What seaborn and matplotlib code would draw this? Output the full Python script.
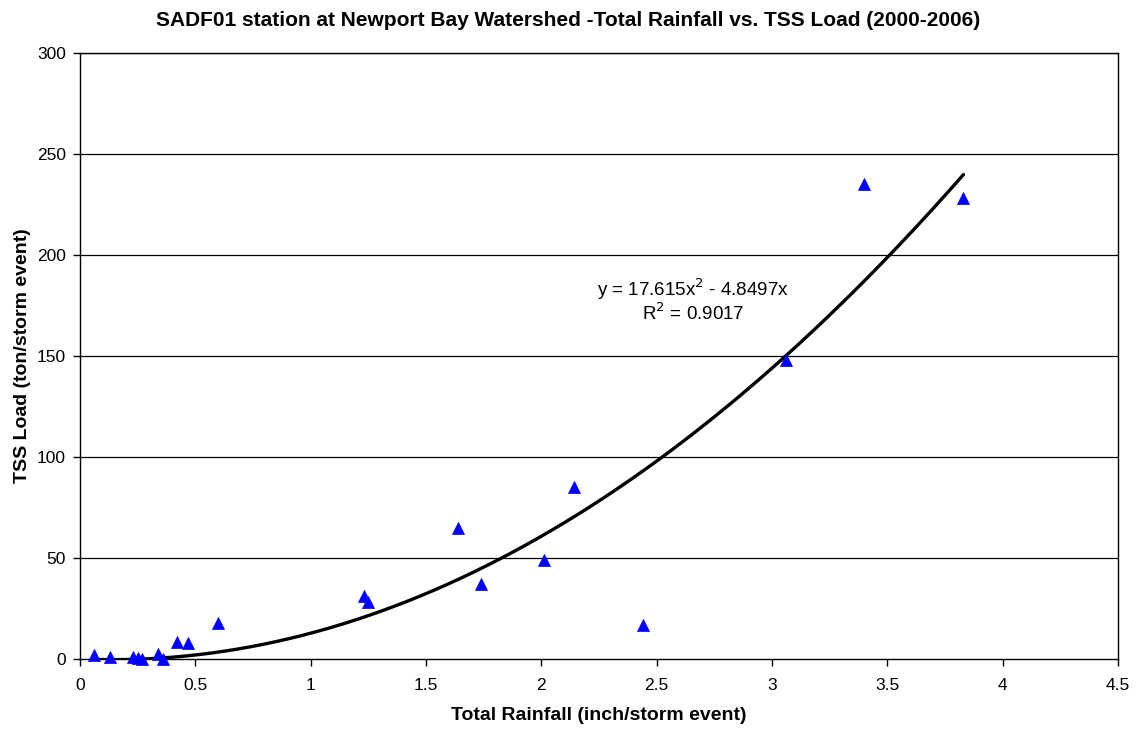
import numpy as np
import pandas as pd
import seaborn as sns
import matplotlib.pyplot as plt

# Storm events
rainfall = [0.06, 0.13, 0.23, 0.25, 0.27, 0.34, 0.36, 0.42, 0.47, 0.60,
            1.23, 1.25, 1.64, 1.74, 2.01, 2.14, 2.44, 3.06, 3.40, 3.83]
tss_load = [2.0, 1.0, 1.0, 0.5, 0.0, 2.5, 0.0, 8.5, 8.0, 18.0,
            31.0, 28.0, 65.0, 37.0, 49.0, 85.0, 17.0, 148.0, 235.0, 228.0]

# Excel polynomial trendline (through origin)
coef_a = 17.615
coef_b = -4.8497
r_squared = 0.9017

xticks = [0, 0.5, 1, 1.5, 2, 2.5, 3, 3.5, 4, 4.5]
yticks = [0, 50, 100, 150, 200, 250, 300]

df = pd.DataFrame({'rain': rainfall, 'tss': tss_load})
xs = np.linspace(min(rainfall), max(rainfall), 200)
trend = pd.DataFrame({'rain': xs, 'tss': coef_a * xs**2 + coef_b * xs})

sns.set_style("white")
plt.rcParams['font.family'] = ['Liberation Sans', 'DejaVu Sans']
plt.rcParams['text.color'] = 'black'
plt.rcParams['axes.labelcolor'] = 'black'

fig = plt.figure(figsize=(11.36, 7.34), dpi=100)
ax = fig.add_axes([0.0704, 0.1022, 0.9138, 0.8256])

for y in yticks[1:]:
    ax.axhline(y, color='black', lw=0.9, zorder=0)

sns.lineplot(data=trend, x='rain', y='tss', color='black', lw=2.4, ax=ax, zorder=2)
sns.scatterplot(data=df, x='rain', y='tss', marker='^', color='#0000FF',
                s=75, edgecolor='#0000FF', linewidth=0.5, ax=ax, zorder=3, clip_on=False)

ax.set_xlim(0, 4.5)
ax.set_ylim(0, 300)
ax.set_xticks(xticks)
ax.set_xticklabels(['0', '0.5', '1', '1.5', '2', '2.5', '3', '3.5', '4', '4.5'])
ax.set_yticks(yticks)
ax.tick_params(axis='both', direction='out', length=5, width=1, colors='black',
               labelsize=12.5, bottom=True, left=True)
ax.tick_params(axis='x', pad=9)
ax.tick_params(axis='y', pad=5)
for s in ax.spines.values():
    s.set_color('black')
    s.set_linewidth(1)

ax.text(2.657, 183, f'y = {coef_a}x$^2$ - {abs(coef_b)}x', ha='center', va='center', fontsize=13.5)
ax.text(2.657, 171, f'R$^2$ = {r_squared}', ha='center', va='center', fontsize=13.5)

ax.set_xlabel('Total Rainfall (inch/storm event)', fontsize=14, fontweight='bold', labelpad=10)
ax.set_ylabel('TSS Load (ton/storm event)', fontsize=14, fontweight='bold', labelpad=4)
fig.suptitle('SADF01 station at Newport Bay Watershed -Total Rainfall vs. TSS Load (2000-2006)',
             x=0.5, y=0.985, fontsize=15, fontweight='bold')

fig.savefig('out.png', dpi=100)
